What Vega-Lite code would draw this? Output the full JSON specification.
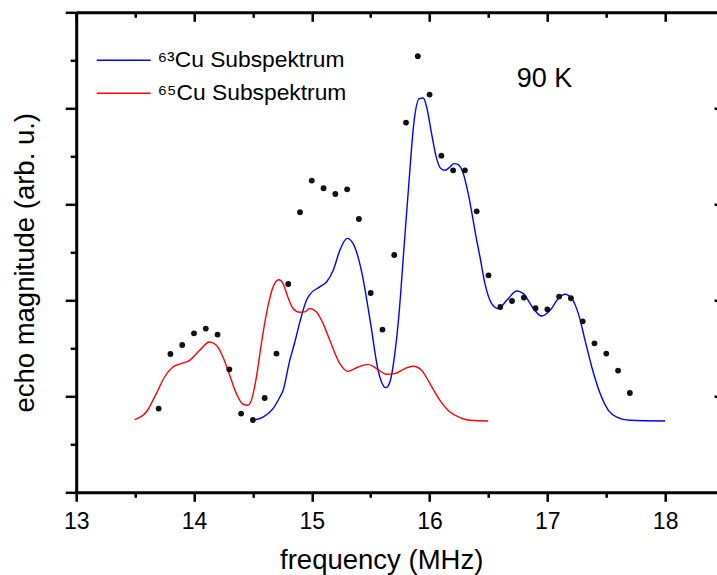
{
  "$schema": "https://vega.github.io/schema/vega-lite/v6.json",
  "width": 640.8,
  "height": 480,
  "autosize": "none",
  "padding": {"left": 76.2, "top": 12.3, "right": 0, "bottom": 82.7},
  "background": "white",
  "config": {
    "view": {"stroke": null},
    "font": "Liberation Sans",
    "axis": {"grid": false, "domainColor": "black", "tickColor": "black", "labelColor": "black", "titleColor": "black", "labelFont": "Liberation Sans", "titleFont": "Liberation Sans"}
  },
  "datasets": {
    "dots": [
      {"freq": 13.7, "value": 0.872}, {"freq": 13.8, "value": 1.441}, {"freq": 13.9, "value": 1.534},
      {"freq": 14.0, "value": 1.656}, {"freq": 14.1, "value": 1.705}, {"freq": 14.2, "value": 1.643},
      {"freq": 14.3, "value": 1.281}, {"freq": 14.4, "value": 0.820}, {"freq": 14.5, "value": 0.753},
      {"freq": 14.6, "value": 0.982}, {"freq": 14.7, "value": 1.445}, {"freq": 14.8, "value": 2.170},
      {"freq": 14.9, "value": 2.917}, {"freq": 15.0, "value": 3.247}, {"freq": 15.1, "value": 3.167},
      {"freq": 15.2, "value": 3.107}, {"freq": 15.3, "value": 3.156}, {"freq": 15.4, "value": 2.847},
      {"freq": 15.5, "value": 2.076}, {"freq": 15.6, "value": 1.695}, {"freq": 15.7, "value": 2.472},
      {"freq": 15.8, "value": 3.851}, {"freq": 15.9, "value": 4.542}, {"freq": 16.0, "value": 4.143},
      {"freq": 16.1, "value": 3.507}, {"freq": 16.2, "value": 3.354}, {"freq": 16.3, "value": 3.354},
      {"freq": 16.4, "value": 2.927}, {"freq": 16.5, "value": 2.260}, {"freq": 16.6, "value": 1.930},
      {"freq": 16.7, "value": 1.993}, {"freq": 16.8, "value": 2.028}, {"freq": 16.9, "value": 1.917},
      {"freq": 17.0, "value": 1.906}, {"freq": 17.1, "value": 2.039}, {"freq": 17.2, "value": 2.021},
      {"freq": 17.3, "value": 1.781}, {"freq": 17.4, "value": 1.552}, {"freq": 17.5, "value": 1.445},
      {"freq": 17.6, "value": 1.268}, {"freq": 17.7, "value": 1.034}
    ],
    "curves": [
      {"series": "⁶³Cu Subspektrum", "freq": 14.496, "value": 0.75},
      {"series": "⁶³Cu Subspektrum", "freq": 14.586, "value": 0.784},
      {"series": "⁶³Cu Subspektrum", "freq": 14.671, "value": 0.872},
      {"series": "⁶³Cu Subspektrum", "freq": 14.728, "value": 0.99},
      {"series": "⁶³Cu Subspektrum", "freq": 14.756, "value": 1.06},
      {"series": "⁶³Cu Subspektrum", "freq": 14.813, "value": 1.375},
      {"series": "⁶³Cu Subspektrum", "freq": 14.855, "value": 1.56},
      {"series": "⁶³Cu Subspektrum", "freq": 14.898, "value": 1.77},
      {"series": "⁶³Cu Subspektrum", "freq": 14.955, "value": 2.0},
      {"series": "⁶³Cu Subspektrum", "freq": 14.983, "value": 2.06},
      {"series": "⁶³Cu Subspektrum", "freq": 15.068, "value": 2.14},
      {"series": "⁶³Cu Subspektrum", "freq": 15.125, "value": 2.19},
      {"series": "⁶³Cu Subspektrum", "freq": 15.181, "value": 2.31},
      {"series": "⁶³Cu Subspektrum", "freq": 15.238, "value": 2.52},
      {"series": "⁶³Cu Subspektrum", "freq": 15.3, "value": 2.645},
      {"series": "⁶³Cu Subspektrum", "freq": 15.351, "value": 2.59},
      {"series": "⁶³Cu Subspektrum", "freq": 15.393, "value": 2.45},
      {"series": "⁶³Cu Subspektrum", "freq": 15.436, "value": 2.22},
      {"series": "⁶³Cu Subspektrum", "freq": 15.47, "value": 1.98},
      {"series": "⁶³Cu Subspektrum", "freq": 15.507, "value": 1.70},
      {"series": "⁶³Cu Subspektrum", "freq": 15.541, "value": 1.42},
      {"series": "⁶³Cu Subspektrum", "freq": 15.563, "value": 1.27},
      {"series": "⁶³Cu Subspektrum", "freq": 15.592, "value": 1.15},
      {"series": "⁶³Cu Subspektrum", "freq": 15.629, "value": 1.09},
      {"series": "⁶³Cu Subspektrum", "freq": 15.663, "value": 1.15},
      {"series": "⁶³Cu Subspektrum", "freq": 15.705, "value": 1.445},
      {"series": "⁶³Cu Subspektrum", "freq": 15.74, "value": 1.85},
      {"series": "⁶³Cu Subspektrum", "freq": 15.78, "value": 2.5},
      {"series": "⁶³Cu Subspektrum", "freq": 15.824, "value": 3.216},
      {"series": "⁶³Cu Subspektrum", "freq": 15.866, "value": 3.84},
      {"series": "⁶³Cu Subspektrum", "freq": 15.912, "value": 4.10},
      {"series": "⁶³Cu Subspektrum", "freq": 15.946, "value": 4.107},
      {"series": "⁶³Cu Subspektrum", "freq": 15.975, "value": 4.014},
      {"series": "⁶³Cu Subspektrum", "freq": 16.017, "value": 3.736},
      {"series": "⁶³Cu Subspektrum", "freq": 16.06, "value": 3.476},
      {"series": "⁶³Cu Subspektrum", "freq": 16.096, "value": 3.372},
      {"series": "⁶³Cu Subspektrum", "freq": 16.13, "value": 3.354},
      {"series": "⁶³Cu Subspektrum", "freq": 16.173, "value": 3.389},
      {"series": "⁶³Cu Subspektrum", "freq": 16.207, "value": 3.424},
      {"series": "⁶³Cu Subspektrum", "freq": 16.243, "value": 3.414},
      {"series": "⁶³Cu Subspektrum", "freq": 16.286, "value": 3.32},
      {"series": "⁶³Cu Subspektrum", "freq": 16.328, "value": 3.111},
      {"series": "⁶³Cu Subspektrum", "freq": 16.4, "value": 2.625},
      {"series": "⁶³Cu Subspektrum", "freq": 16.428, "value": 2.451},
      {"series": "⁶³Cu Subspektrum", "freq": 16.47, "value": 2.174},
      {"series": "⁶³Cu Subspektrum", "freq": 16.527, "value": 1.966},
      {"series": "⁶³Cu Subspektrum", "freq": 16.583, "value": 1.914},
      {"series": "⁶³Cu Subspektrum", "freq": 16.655, "value": 2.0},
      {"series": "⁶³Cu Subspektrum", "freq": 16.74, "value": 2.097},
      {"series": "⁶³Cu Subspektrum", "freq": 16.796, "value": 2.07},
      {"series": "⁶³Cu Subspektrum", "freq": 16.881, "value": 1.914},
      {"series": "⁶³Cu Subspektrum", "freq": 16.952, "value": 1.836},
      {"series": "⁶³Cu Subspektrum", "freq": 17.023, "value": 1.896},
      {"series": "⁶³Cu Subspektrum", "freq": 17.093, "value": 2.018},
      {"series": "⁶³Cu Subspektrum", "freq": 17.15, "value": 2.0625},
      {"series": "⁶³Cu Subspektrum", "freq": 17.207, "value": 2.018},
      {"series": "⁶³Cu Subspektrum", "freq": 17.263, "value": 1.861},
      {"series": "⁶³Cu Subspektrum", "freq": 17.32, "value": 1.583},
      {"series": "⁶³Cu Subspektrum", "freq": 17.377, "value": 1.305},
      {"series": "⁶³Cu Subspektrum", "freq": 17.448, "value": 1.028},
      {"series": "⁶³Cu Subspektrum", "freq": 17.518, "value": 0.854},
      {"series": "⁶³Cu Subspektrum", "freq": 17.589, "value": 0.784},
      {"series": "⁶³Cu Subspektrum", "freq": 17.702, "value": 0.75},
      {"series": "⁶³Cu Subspektrum", "freq": 18.0, "value": 0.743},
      {"series": "⁶⁵Cu Subspektrum", "freq": 13.496, "value": 0.757},
      {"series": "⁶⁵Cu Subspektrum", "freq": 13.595, "value": 0.836},
      {"series": "⁶⁵Cu Subspektrum", "freq": 13.68, "value": 1.028},
      {"series": "⁶⁵Cu Subspektrum", "freq": 13.75, "value": 1.201},
      {"series": "⁶⁵Cu Subspektrum", "freq": 13.821, "value": 1.305},
      {"series": "⁶⁵Cu Subspektrum", "freq": 13.892, "value": 1.341},
      {"series": "⁶⁵Cu Subspektrum", "freq": 13.963, "value": 1.375},
      {"series": "⁶⁵Cu Subspektrum", "freq": 14.048, "value": 1.479},
      {"series": "⁶⁵Cu Subspektrum", "freq": 14.133, "value": 1.566},
      {"series": "⁶⁵Cu Subspektrum", "freq": 14.19, "value": 1.531},
      {"series": "⁶⁵Cu Subspektrum", "freq": 14.246, "value": 1.409},
      {"series": "⁶⁵Cu Subspektrum", "freq": 14.303, "value": 1.219},
      {"series": "⁶⁵Cu Subspektrum", "freq": 14.36, "value": 1.028},
      {"series": "⁶⁵Cu Subspektrum", "freq": 14.416, "value": 0.917},
      {"series": "⁶⁵Cu Subspektrum", "freq": 14.458, "value": 0.906},
      {"series": "⁶⁵Cu Subspektrum", "freq": 14.487, "value": 0.958},
      {"series": "⁶⁵Cu Subspektrum", "freq": 14.53, "value": 1.201},
      {"series": "⁶⁵Cu Subspektrum", "freq": 14.572, "value": 1.549},
      {"series": "⁶⁵Cu Subspektrum", "freq": 14.615, "value": 1.861},
      {"series": "⁶⁵Cu Subspektrum", "freq": 14.671, "value": 2.139},
      {"series": "⁶⁵Cu Subspektrum", "freq": 14.719, "value": 2.214},
      {"series": "⁶⁵Cu Subspektrum", "freq": 14.756, "value": 2.174},
      {"series": "⁶⁵Cu Subspektrum", "freq": 14.798, "value": 2.03},
      {"series": "⁶⁵Cu Subspektrum", "freq": 14.841, "value": 1.914},
      {"series": "⁶⁵Cu Subspektrum", "freq": 14.898, "value": 1.875},
      {"series": "⁶⁵Cu Subspektrum", "freq": 14.94, "value": 1.88},
      {"series": "⁶⁵Cu Subspektrum", "freq": 14.983, "value": 1.914},
      {"series": "⁶⁵Cu Subspektrum", "freq": 15.04, "value": 1.878},
      {"series": "⁶⁵Cu Subspektrum", "freq": 15.096, "value": 1.757},
      {"series": "⁶⁵Cu Subspektrum", "freq": 15.153, "value": 1.583},
      {"series": "⁶⁵Cu Subspektrum", "freq": 15.238, "value": 1.341},
      {"series": "⁶⁵Cu Subspektrum", "freq": 15.308, "value": 1.26},
      {"series": "⁶⁵Cu Subspektrum", "freq": 15.393, "value": 1.305},
      {"series": "⁶⁵Cu Subspektrum", "freq": 15.478, "value": 1.333},
      {"series": "⁶⁵Cu Subspektrum", "freq": 15.55, "value": 1.289},
      {"series": "⁶⁵Cu Subspektrum", "freq": 15.635, "value": 1.229},
      {"series": "⁶⁵Cu Subspektrum", "freq": 15.705, "value": 1.236},
      {"series": "⁶⁵Cu Subspektrum", "freq": 15.79, "value": 1.289},
      {"series": "⁶⁵Cu Subspektrum", "freq": 15.861, "value": 1.3125},
      {"series": "⁶⁵Cu Subspektrum", "freq": 15.932, "value": 1.271},
      {"series": "⁶⁵Cu Subspektrum", "freq": 16.003, "value": 1.132},
      {"series": "⁶⁵Cu Subspektrum", "freq": 16.088, "value": 0.958},
      {"series": "⁶⁵Cu Subspektrum", "freq": 16.173, "value": 0.836},
      {"series": "⁶⁵Cu Subspektrum", "freq": 16.258, "value": 0.778},
      {"series": "⁶⁵Cu Subspektrum", "freq": 16.343, "value": 0.75},
      {"series": "⁶⁵Cu Subspektrum", "freq": 16.498, "value": 0.743}
    ]
  },
  "resolve": {"axis": {"x": "independent", "y": "independent"}},
  "layer": [
    {
      "data": {"name": "curves"},
      "mark": {"type": "line", "interpolate": "monotone", "strokeWidth": 1.4},
      "encoding": {
        "x": {
          "field": "freq", "type": "quantitative",
          "scale": {"domain": [13, 18.44], "nice": false, "zero": false},
          "axis": {
            "orient": "bottom",
            "values": [13, 13.5, 14, 14.5, 15, 15.5, 16, 16.5, 17, 17.5, 18],
            "labelExpr": "datum.value % 1 === 0 ? format(datum.value, 'd') : ''",
            "tickSize": {"condition": {"test": "datum.value % 1 === 0", "value": 9}, "value": 5},
            "tickWidth": 2.5,
            "domainWidth": 3,
            "labelFontSize": 23,
            "labelBaseline": "alphabetic",
            "labelPadding": 27,
            "labelFlush": false,
            "labelOverlap": false,
            "title": "frequency (MHz)",
            "titleFontSize": 27.5,
            "titleFontWeight": "normal",
            "titleAlign": "center",
            "titleBaseline": "alphabetic",
            "titleX": 305,
            "titleY": 75.7
          }
        },
        "y": {
          "field": "value", "type": "quantitative",
          "scale": {"domain": [0, 5], "nice": false, "zero": false},
          "axis": {
            "orient": "left",
            "values": [0, 0.5, 1, 1.5, 2, 2.5, 3, 3.5, 4, 4.5, 5],
            "labels": false,
            "tickSize": {"condition": {"test": "datum.value % 1 === 0", "value": 11}, "value": 6},
            "tickWidth": 2.5,
            "domainWidth": 3,
            "title": "echo magnitude (arb. u.)",
            "titleFontSize": 27.5,
            "titleFontWeight": "normal",
            "titleAngle": 270,
            "titleAlign": "center",
            "titleBaseline": "alphabetic",
            "titleX": -43,
            "titleY": 250
          }
        },
        "color": {
          "field": "series", "type": "nominal",
          "scale": {"domain": ["⁶³Cu Subspektrum", "⁶⁵Cu Subspektrum"], "range": ["#0000ff", "#ff0000"]},
          "legend": {
            "orient": "none",
            "legendX": 19.5,
            "legendY": 31.5,
            "title": null,
            "padding": 0,
            "symbolType": "stroke",
            "symbolSize": 2916,
            "symbolStrokeWidth": 1.5,
            "labelFontSize": 22.8,
            "labelFont": "Liberation Sans",
            "labelColor": "black",
            "labelOffset": 6,
            "labelLimit": 400,
            "clipHeight": 32.7,
            "rowPadding": 0
          }
        }
      }
    },
    {
      "data": {"name": "dots"},
      "mark": {"type": "circle", "size": 34, "color": "#111111", "opacity": 1},
      "encoding": {
        "x": {
          "field": "freq", "type": "quantitative",
          "axis": {
            "orient": "top",
            "values": [13, 13.5, 14, 14.5, 15, 15.5, 16, 16.5, 17, 17.5, 18],
            "labels": false,
            "tickSize": {"condition": {"test": "datum.value % 1 === 0", "value": -9}, "value": -5},
            "tickWidth": 2.5,
            "domainWidth": 3,
            "title": null
          }
        },
        "y": {
          "field": "value", "type": "quantitative",
          "axis": {
            "orient": "right",
            "values": [1, 2, 3, 4],
            "labels": false,
            "domain": false,
            "tickSize": -3,
            "tickWidth": 2.5,
            "title": null
          }
        }
      }
    },
    {
      "data": {"values": [{}]},
      "mark": {"type": "text", "align": "left", "baseline": "alphabetic", "fontSize": 27, "font": "Liberation Sans", "color": "black"},
      "encoding": {
        "x": {"datum": 16.74, "type": "quantitative", "axis": null},
        "y": {"datum": 4.22, "type": "quantitative", "axis": null},
        "text": {"value": "90 K"}
      }
    }
  ]
}
